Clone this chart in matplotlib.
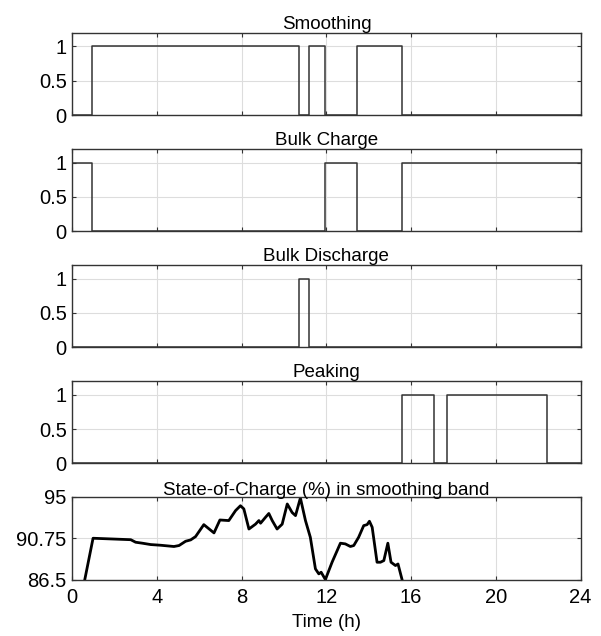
import matplotlib
matplotlib.use("Agg")
import matplotlib.pyplot as plt

plt.rcParams['font.family'] = ['Liberation Sans', 'DejaVu Sans']

# mode switching times (h) and on/off states (step, post)
smooth_t = [0, 0.94, 10.72, 11.19, 11.92, 13.42, 15.56, 24]
smooth_v = [0, 1, 0, 1, 0, 1, 0, 0]
charge_t = [0, 0.94, 11.92, 13.42, 15.56, 24]
charge_v = [1, 0, 1, 0, 1, 1]
discharge_t = [0, 10.72, 11.19, 24]
discharge_v = [0, 1, 0, 0]
peak_t = [0, 15.56, 17.07, 17.7, 22.4, 24]
peak_v = [0, 1, 0, 1, 0, 0]

# state of charge in smoothing band
soc_t = [0.59, 0.98, 2.76, 2.99, 3.31, 3.7, 4.17, 4.8, 5.04, 5.35, 5.59, 5.82,
         6.21, 6.69, 6.97, 7.39, 7.71, 7.94, 8.1, 8.34, 8.65, 8.81, 8.89, 9.12,
         9.28, 9.44, 9.67, 9.91, 10.15, 10.38, 10.54, 10.77, 11.01, 11.24,
         11.48, 11.64, 11.75, 11.95, 12.27, 12.66, 12.89, 13.13, 13.29, 13.52,
         13.76, 13.92, 14.03, 14.16, 14.39, 14.55, 14.71, 14.9, 15.05, 15.26,
         15.38, 15.57]
soc_v = [86.5, 90.75, 90.6, 90.34, 90.24, 90.1, 90.03, 89.9, 90.0, 90.44, 90.58, 90.92,
         92.15, 91.3, 92.63, 92.57, 93.6, 94.1, 93.77, 91.7, 92.2, 92.57, 92.3, 92.9,
         93.3, 92.57, 91.7, 92.2, 94.28, 93.4, 93.08, 94.9, 92.57, 90.85,
         87.6, 87.08, 87.25, 86.5, 88.3, 90.24, 90.17, 89.9, 90.0, 90.85,
         92.05, 92.15, 92.5, 91.88, 88.28, 88.28, 88.45, 90.24, 88.28, 87.94,
         88.1, 86.5]

titles = ['Smoothing', 'Bulk Charge', 'Bulk Discharge', 'Peaking',
          'State-of-Charge (%) in smoothing band']
step_data = [(smooth_t, smooth_v), (charge_t, charge_v),
             (discharge_t, discharge_v), (peak_t, peak_v)]
xticks = [0, 4, 8, 12, 16, 20, 24]

fig, axes = plt.subplots(5, 1, figsize=(6.01, 6.36), dpi=100)
fig.subplots_adjust(left=0.1203, right=0.966, top=0.9486, bottom=0.0888, hspace=0.406)

for i, ax in enumerate(axes):
    if i < 4:
        t, v = step_data[i]
        ax.step(t, v, where='post', color='#333333', linewidth=1.1)
        ax.set_ylim(0, 1.2)
        ax.set_yticks([0, 0.5, 1])
        ax.set_yticklabels(['0', '0.5', '1'])
        ax.set_xticklabels([])
    else:
        ax.plot(soc_t, soc_v, color='black', linewidth=2.0,
                solid_joinstyle='round', clip_on=True)
        ax.set_ylim(86.5, 95)
        ax.set_yticks([86.5, 90.75, 95])
        ax.set_yticklabels(['86.5', '90.75', '95'])
        ax.set_xlabel('Time (h)', fontsize=13.5, labelpad=5)
    ax.set_xlim(0, 24)
    ax.set_xticks(xticks)
    ax.grid(True, color='#dddddd', linewidth=0.8)
    ax.set_axisbelow(True)
    ax.tick_params(direction='in', top=True, right=True, length=3,
                   color='#333333', labelsize=14.5, pad=4)
    ax.tick_params(axis='x', pad=6)
    for s in ax.spines.values():
        s.set_color('#333333')
        s.set_linewidth(1.0)
    ax.set_title(titles[i], fontsize=13.5, pad=1.5)

fig.savefig('out.png', dpi=100)
